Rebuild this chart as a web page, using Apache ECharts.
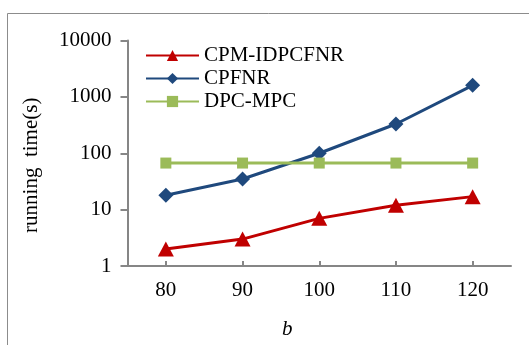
<!DOCTYPE html>
<html><head><meta charset="utf-8">
<script src="https://cdn.jsdelivr.net/npm/echarts@6/dist/echarts.min.js"></script>
<style>html,body{margin:0;padding:0;background:#fff}#c{width:529px;height:345px}</style>
</head><body><div id="c"></div>
<script>
const categories = [80, 90, 100, 110, 120];
const seriesNames = ['CPM-IDPCFNR', 'CPFNR', 'DPC-MPC'];
const cpmIdpcfnr = [2, 3, 7, 12, 17];
const cpfnr = [18, 35, 100, 330, 1600];
const dpcMpc = [67, 67, 67, 67, 67];
const yTicks = [1, 10, 100, 1000, 10000];

const font = 'Liberation Serif, Times New Roman, serif';
const pair = arr => categories.map((c, i) => [c, arr[i]]);
const chart = echarts.init(document.getElementById('c'), null, {renderer: 'canvas'});
chart.setOption({
  animation: false,
  backgroundColor: '#fff',
  graphic: [{type: 'rect', shape: {x: 7.5, y: 13.5, width: 600, height: 400},
    style: {fill: 'none', stroke: '#8c8c8c', lineWidth: 1}, silent: true, z: -1}],
  grid: {left: 127.5, right: 18, top: 40.5, bottom: 78.5, containLabel: false},
  legend: {
    orient: 'vertical', left: 145, top: 45, padding: 0, itemWidth: 53, itemHeight: 14, itemGap: 2,
    textStyle: {fontFamily: font, fontSize: 21, color: '#000', padding: [0, 0, 0, 0]},
    data: seriesNames
  },
  xAxis: {
    type: 'value', min: 75, max: 125, splitNumber: 5,
    name: 'b', nameLocation: 'middle', nameGap: 53,
    nameTextStyle: {fontFamily: font, fontSize: 21, fontStyle: 'italic', color: '#000', padding: [0, 64, 0, 0]},
    axisLine: {lineStyle: {color: '#868686', width: 2}},
    axisTick: {show: true, inside: true, length: 5, lineStyle: {color: '#868686', width: 2}},
    axisLabel: {fontFamily: font, fontSize: 21, color: '#000', margin: 14,
      showMinLabel: false, showMaxLabel: false,
      formatter: v => (categories.indexOf(v) >= 0 ? String(v) : '')},
    splitLine: {show: false}
  },
  yAxis: {
    type: 'log', logBase: 10, min: yTicks[0], max: yTicks[yTicks.length - 1],
    name: 'running  time(s)', nameLocation: 'middle', nameGap: 86, nameRotate: 90,
    nameTextStyle: {fontFamily: font, fontSize: 21, color: '#000', padding: [0, 24, 0, 0]},
    axisLine: {show: true, lineStyle: {color: '#868686', width: 2}},
    axisTick: {show: true, length: 7, lineStyle: {color: '#868686', width: 2}},
    axisLabel: {fontFamily: font, fontSize: 21, color: '#000', margin: 16,
      formatter: v => String(Math.round(v))},
    splitLine: {show: false}
  },
  series: [
    {name: seriesNames[0], type: 'line', data: pair(cpmIdpcfnr), symbol: 'triangle', symbolSize: [16, 15],
      lineStyle: {color: '#C00000', width: 3}, itemStyle: {color: '#C00000'}},
    {name: seriesNames[1], type: 'line', data: pair(cpfnr), symbol: 'diamond', symbolSize: 15,
      lineStyle: {color: '#1F497D', width: 3}, itemStyle: {color: '#1F497D'}},
    {name: seriesNames[2], type: 'line', data: pair(dpcMpc), symbol: 'rect', symbolSize: 11,
      lineStyle: {color: '#9BBB59', width: 3}, itemStyle: {color: '#9BBB59'}}
  ]
});
</script></body></html>
